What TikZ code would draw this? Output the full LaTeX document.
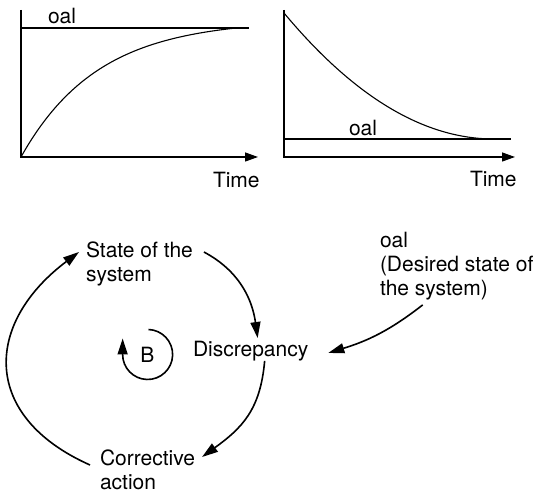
\documentclass[tikz,border=0pt]{standalone}
\usepackage{fontspec}
\setmainfont{TeX Gyre Heros}
\usetikzlibrary{arrows.meta}

\begin{document}
\begin{tikzpicture}[x=1pt,y=1pt,
  axis/.style={draw=black,line width=1.3pt},
  curve/.style={draw=black,line width=1.1pt},
  link/.style={draw=black,line width=1.6pt,-{Triangle[length=16pt,width=10pt]}},
  label/.style={font=\fontsize{21}{24}\selectfont,inner sep=0pt,outer sep=0pt,align=left},
]
\useasboundingbox (0,0) rectangle (538,492);

% Goal approached from below
\draw[axis,-{Triangle[length=13pt,width=9pt]}] (21,482) -- (21,335) -- (258,335);
\draw[axis] (21,464) -- (249,464);
\draw[curve] plot[domain=0:215,samples=80,smooth] ({21+\x},{464-129*(exp(-0.013*\x)-0.061)/0.939});
\node[label,anchor=base west] (goalA) at (48,468) {oal};
\node[label,anchor=base west] (timeA) at (213,304) {Time};

% Goal approached from above
\draw[axis,-{Triangle[length=13pt,width=9pt]}] (284,482) -- (284,335) -- (515,335);
\draw[axis] (284,353) -- (511,353);
\draw[curve] plot[domain=0:210,samples=80,smooth] ({284+\x},{353+126*(1-\x/210)^2});
\node[label,anchor=base west] (goalB) at (349,356) {oal};
\node[label,anchor=base west] (timeB) at (470,305) {Time};

% Balancing loop
\node[label,anchor=north west] (state) at (86,250) {State of the\\system};
\node[label,anchor=north west] (disc) at (193,151) {Discrepancy};
\node[label,anchor=north west] (corr) at (100,42) {Corrective\\action};
\node[label,anchor=north west] (goal) at (380,260) {oal\\(Desired state of\\the system)};
\node[label] (loopB) at (147.5,137.5) {B};

\draw[link] ([shift={(11,-10)}]state.north east) to[out=-28,in=98] ([shift={(7,3)}]disc.north);
\draw[link,looseness=1.1] ([shift={(14,0)}]disc.south) to[out=-95,in=36] ([shift={(7,-7)}]corr.north east);
\draw[link,looseness=1.43] ([shift={(-10,-15)}]corr.north west) to[out=156,in=217] ([shift={(-7,-10)}]state.north west);
\draw[link] ([shift={(-34,-5)}]goal.south) to[out=218,in=17] ([shift={(20,-2)}]disc.east);
\draw[link] ([shift={(1,25)}]loopB.center) arc[start angle=88,end angle=-180,radius=25] -- ++(0,16);

\end{tikzpicture}
\end{document}
